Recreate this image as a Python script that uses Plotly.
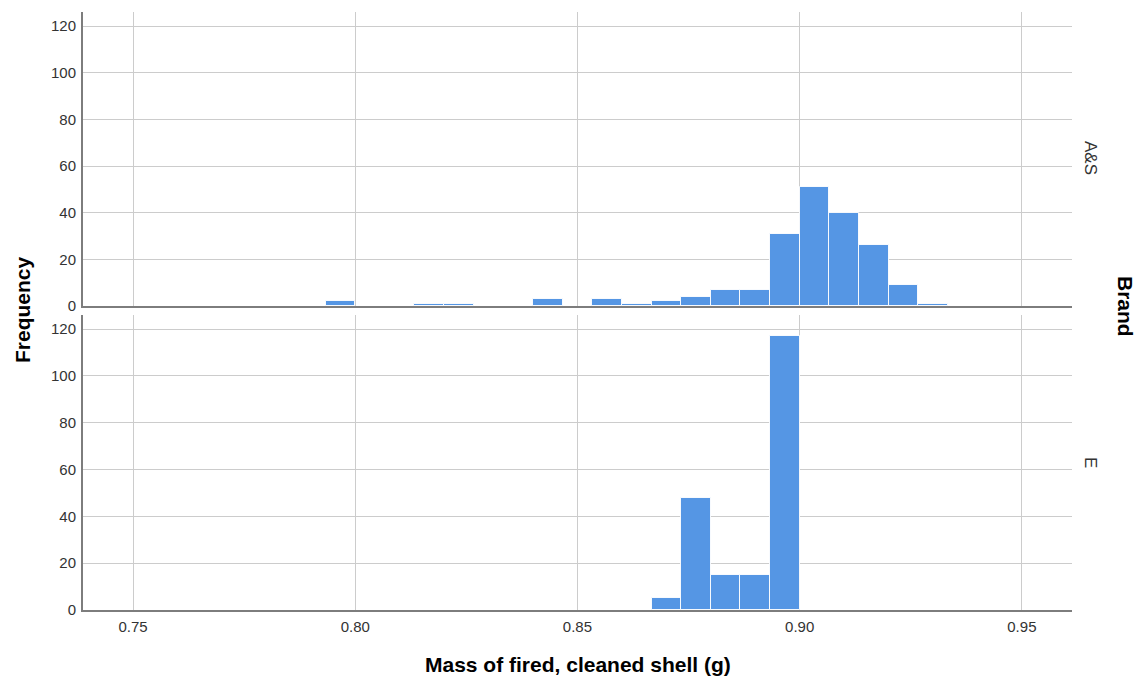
import plotly.graph_objects as go

# ---- data ----
bin_width = 1 / 150
# A&S: bins starting at 0.79333 g
as_first_edge = 0.90 - 16 / 150
as_counts = [2, 0, 0, 1, 1, 0, 0, 3, 0, 3, 1, 2, 4, 7, 7, 31, 51, 40, 26, 9, 1]
# E: bins starting at 0.86667 g
e_first_edge = 0.90 - 5 / 150
e_counts = [5, 48, 15, 15, 117]

x_ticks = [0.75, 0.80, 0.85, 0.90, 0.95]
x_tick_labels = ["0.75", "0.80", "0.85", "0.90", "0.95"]
y_ticks = [0, 20, 40, 60, 80, 100, 120]
panel_labels = ["A&S", "E"]

BAR = "#5596E4"
GRID = "#cccccc"
AXIS = "#7d7d7d"
TXT = "#333333"
FONT = "Liberation Sans, Arial, sans-serif"


def centers(first, counts):
    xs, ys = [], []
    for i, c in enumerate(counts):
        if c > 0:
            xs.append(first + (i + 0.5) * bin_width)
            ys.append(c)
    return xs, ys


fig = go.Figure()
x1, y1 = centers(as_first_edge, as_counts)
x2, y2 = centers(e_first_edge, e_counts)
for xs, ys, xa, ya in [(x1, y1, "x", "y"), (x2, y2, "x2", "y2")]:
    fig.add_trace(go.Bar(
        x=xs, y=ys, width=[bin_width] * len(xs), xaxis=xa, yaxis=ya,
        marker=dict(color=BAR, line=dict(color="rgba(255,255,255,0.9)", width=1)),
        showlegend=False, hoverinfo="x+y",
    ))

xrange = [0.73875, 0.96128]
common_x = dict(range=xrange, tickvals=x_ticks, ticktext=x_tick_labels,
                showgrid=True, gridcolor=GRID, gridwidth=1, zeroline=False,
                showline=True, linecolor=AXIS, linewidth=2,
                tickfont=dict(family=FONT, size=15, color=TXT))
common_y = dict(range=[0, 126], tickvals=y_ticks, showgrid=True, gridcolor=GRID,
                gridwidth=1, zeroline=False, showline=True, linecolor=AXIS,
                linewidth=2, ticks="outside", ticklen=2, tickcolor="rgba(0,0,0,0)",
                tickfont=dict(family=FONT, size=15, color=TXT))

top_dom = [(610 - 306) / 598, 1.0]
bot_dom = [0.0, (610 - 315) / 598]

fig.update_layout(
    width=1139, height=682,
    margin=dict(l=83, r=67, t=12, b=72),
    paper_bgcolor="white", plot_bgcolor="white",
    bargap=0,
    xaxis=dict(common_x, anchor="y", showticklabels=False, matches="x2"),
    yaxis=dict(common_y, domain=top_dom, anchor="x"),
    xaxis2=dict(common_x, anchor="y2", ticks="outside", ticklen=2,
                tickcolor="rgba(0,0,0,0)"),
    yaxis2=dict(common_y, domain=bot_dom, anchor="x2"),
    font=dict(family=FONT, color=TXT),
)

W = 1139 - 83 - 67
H = 682 - 12 - 72


def px_x(p):
    return (p - 83) / W


def px_y(p):
    return (610 - p) / H


annotations = [
    dict(text="<b>Frequency</b>", x=px_x(22), y=px_y(310), textangle=-90,
         font=dict(size=21, color="black", family=FONT)),
    dict(text="<b>Mass of fired, cleaned shell (g)</b>", x=0.5, y=px_y(664),
         font=dict(size=21, color="black", family=FONT)),
    dict(text="<b>Brand</b>", x=px_x(1126), y=px_y(306), textangle=90,
         font=dict(size=21, color="black", family=FONT)),
    dict(text=panel_labels[0], x=px_x(1090), y=px_y(158), textangle=90,
         font=dict(size=17, color=TXT, family=FONT)),
    dict(text=panel_labels[1], x=px_x(1090), y=px_y(462), textangle=90,
         font=dict(size=17, color=TXT, family=FONT)),
]
for a in annotations:
    a.update(xref="paper", yref="paper", showarrow=False,
             xanchor="center", yanchor="middle")
fig.update_layout(annotations=annotations)

fig.write_html("out.html",
               config={"displayModeBar": False},
               post_script="document.body.style.margin='0px';"
                           "document.body.style.overflow='hidden';")
